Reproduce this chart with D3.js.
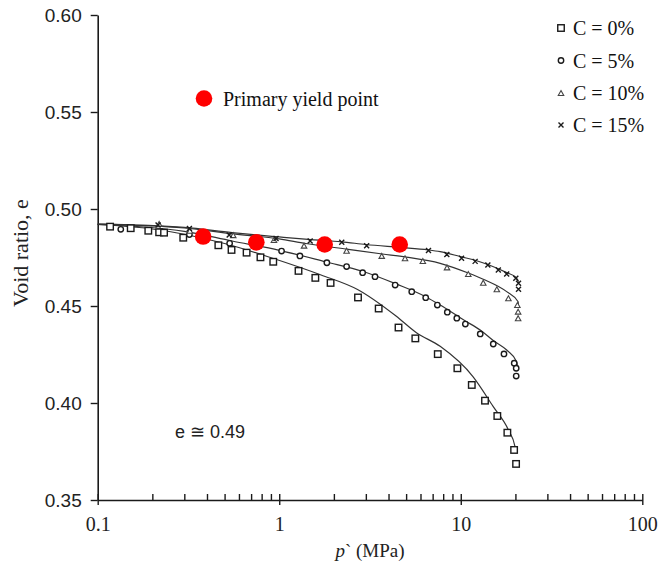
<!DOCTYPE html>
<html>
<head>
<meta charset="utf-8">
<script src="https://cdn.jsdelivr.net/npm/d3@7/dist/d3.min.js"></script>
<style>
  html, body { margin: 0; padding: 0; background: #fff; }
  svg { display: block; }
</style>
</head>
<body>
<svg id="chart" width="662" height="571"></svg>
<script>
// Measured void ratio e against mean effective stress p' (MPa), by cement content C
const c0Points = [[0.117,0.4909],[0.152,0.4901],[0.190,0.4888],[0.218,0.4880],[0.232,0.4878],[0.296,0.4852],[0.462,0.4813],[0.546,0.4789],[0.661,0.4775],[0.788,0.4751],[0.927,0.4728],[1.277,0.4681],[1.581,0.4645],[1.918,0.4619],[2.716,0.4544],[3.53,0.4487],[4.54,0.4389],[5.62,0.4333],[7.47,0.4252],[9.58,0.4179],[11.5,0.4093],[13.6,0.4012],[15.9,0.3933],[18.06,0.3847],[19.67,0.3758],[20.17,0.3686]];
const c5Points = [[0.134,0.4895],[0.32,0.4868],[0.533,0.4823],[1.03,0.4783],[1.30,0.4758],[1.83,0.4723],[2.35,0.4703],[2.88,0.4672],[3.37,0.4651],[4.35,0.4608],[5.37,0.4574],[6.41,0.4543],[7.43,0.4505],[8.43,0.4468],[9.51,0.4437],[10.6,0.4407],[12.8,0.4356],[15.1,0.4304],[17.3,0.4253],[19.7,0.4205],[20.2,0.4179],[20.2,0.4139]];
const c10Points = [[0.218,0.4923],[0.322,0.4888],[0.558,0.4865],[0.935,0.4840],[1.37,0.4811],[2.35,0.4785],[3.67,0.4758],[4.93,0.4746],[6.18,0.4732],[8.4,0.4699],[11.0,0.4665],[13.3,0.4620],[15.8,0.4586],[18.3,0.4540],[20.5,0.4505],[20.7,0.4471],[20.7,0.4437]];
const c15Points = [[0.215,0.4917],[0.32,0.4900],[0.53,0.4866],[0.96,0.4848],[1.48,0.4835],[2.21,0.4828],[3.03,0.4811],[6.64,0.4786],[8.38,0.4765],[10.1,0.4746],[12.0,0.4730],[14.1,0.4711],[16.1,0.4686],[17.9,0.4665],[20.1,0.4643],[20.8,0.4617],[20.8,0.4586]];

// Model curves fitted to each series
const c0Curve = [[0.1,0.4920],[0.2,0.4897],[0.3,0.4870],[0.5,0.4822],[0.93,0.4745],[1.7,0.4660],[2.7,0.4585],[4.4,0.4448],[5.7,0.4362],[7.7,0.4292],[11.7,0.4135],[15.1,0.3981],[18.3,0.3861],[19.9,0.3775],[20.2,0.3741]];
const c5Curve = [[0.1,0.4920],[0.3,0.4885],[0.55,0.4835],[1.0,0.4787],[1.8,0.4728],[2.9,0.4678],[4.4,0.4614],[6.4,0.4548],[7.7,0.4505],[10.5,0.4425],[12.8,0.4376],[15.1,0.4322],[17.9,0.4273],[20.3,0.4213],[20.5,0.4190]];
const c10Curve = [[0.1,0.4922],[0.3,0.4902],[0.55,0.4872],[1.0,0.4846],[1.4,0.4822],[2.4,0.4792],[3.7,0.4768],[5.0,0.4752],[7.7,0.4720],[11.0,0.4670],[13.3,0.4638],[17.9,0.4574],[20.7,0.4522],[20.8,0.4500]];
const c15Curve = [[0.1,0.4922],[0.3,0.4905],[0.55,0.4878],[1.0,0.4856],[1.5,0.4842],[2.2,0.4831],[3.0,0.4817],[4.6,0.4802],[6.6,0.4789],[7.7,0.4780],[10.1,0.4753],[12.0,0.4736],[14.1,0.4714],[17.9,0.4672],[20.1,0.4648],[20.8,0.4625]];

// Primary yield points (one per cement content)
const yieldPoints = [[0.381,0.4858],[0.748,0.4828],[1.78,0.4817],[4.61,0.4817]];

const legendLabels = ["C = 0%", "C = 5%", "C = 10%", "C = 15%"];
const yTicks = [0.35, 0.40, 0.45, 0.50, 0.55, 0.60];
const xMajorTicks = [0.1, 1, 10, 100];
const xTickLabels = ["0.1", "1", "10", "100"];

const svg = d3.select("#chart");
const x = d3.scaleLog().domain([0.1, 100]).range([97.7, 642.3]);
const y = d3.scaleLinear().domain([0.35, 0.60]).range([500, 15]);

const ink = "#1a1a1a";
const serif = "'Liberation Serif', 'Times New Roman', serif";
const sans = "'Liberation Sans', Arial, sans-serif";

// ---- y axis
const yAxis = svg.append("g")
  .attr("transform", `translate(${x.range()[0]},0)`)
  .call(d3.axisLeft(y).tickValues(yTicks).tickFormat(d3.format(".2f"))
    .tickSize(7).tickPadding(9).tickSizeOuter(0));
yAxis.select(".domain").attr("stroke", ink).attr("stroke-width", 1.6);
yAxis.selectAll(".tick line").attr("stroke", ink).attr("stroke-width", 1.4);
yAxis.selectAll(".tick text")
  .attr("fill", "#222").style("font-family", sans).style("font-size", "19px");

// ---- x axis: minor ticks point inward, major ticks cross the axis
const xMinor = [];
for (let dec = 0.1; dec < 100; dec *= 10) {
  for (let k = 2; k <= 9; k++) xMinor.push(+(dec * k).toPrecision(3));
}
const xAxisG = svg.append("g").attr("transform", `translate(0,${y.range()[0]})`);
xAxisG.call(d3.axisBottom(x).tickValues(xMinor).tickFormat("").tickSize(-6).tickSizeOuter(0));
xAxisG.selectAll(".tick line").attr("stroke", ink).attr("stroke-width", 1.4);
xAxisG.select(".domain").attr("stroke", ink).attr("stroke-width", 1.6);

const xMajorG = svg.append("g").attr("transform", `translate(0,${y.range()[0]})`);
xMajorG.call(d3.axisBottom(x).tickValues(xMajorTicks)
  .tickFormat((d, i) => xTickLabels[i]).tickSize(5).tickSizeOuter(0));
xMajorG.select(".domain").remove();
xMajorG.selectAll(".tick line").attr("y1", -6).attr("y2", 5)
  .attr("stroke", ink).attr("stroke-width", 1.4);
xMajorG.selectAll(".tick text")
  .attr("y", 31).attr("dy", null)
  .attr("fill", "#222").style("font-family", serif).style("font-size", "20px");

// ---- axis titles
const xTitle = svg.append("text")
  .attr("x", 370).attr("y", 557)
  .attr("text-anchor", "middle")
  .attr("fill", "#222")
  .style("font-family", serif).style("font-size", "19px");
xTitle.append("tspan").style("font-style", "italic").text("p");
xTitle.append("tspan").text("` (MPa)");

svg.append("text")
  .attr("transform", "translate(28,253) rotate(-90)")
  .attr("text-anchor", "middle")
  .attr("fill", "#222")
  .style("font-family", serif).style("font-size", "22px")
  .text("Void ratio, e");

// ---- fitted curves
const line = d3.line().x(d => x(d[0])).y(d => y(d[1])).curve(d3.curveMonotoneX);
const curves = [c0Curve, c5Curve, c10Curve, c15Curve];
svg.append("g").selectAll("path").data(curves).join("path")
  .attr("d", line)
  .attr("fill", "none")
  .attr("stroke", "#333")
  .attr("stroke-width", 1.2);

// ---- markers
function drawSquare(g, cx, cy, s) {
  g.append("rect").attr("x", cx - s / 2).attr("y", cy - s / 2).attr("width", s).attr("height", s)
    .attr("stroke", ink).attr("stroke-width", 1.4).attr("fill", "#fff");
}
function drawCircle(g, cx, cy, r) {
  g.append("circle").attr("cx", cx).attr("cy", cy).attr("r", r)
    .attr("stroke", ink).attr("stroke-width", 1.4).attr("fill", "#fff");
}
function drawTriangle(g, cx, cy, s) {
  const h = s * 0.9;
  g.append("path")
    .attr("d", `M${cx},${cy - h / 2}L${cx + s / 2},${cy + h / 2}L${cx - s / 2},${cy + h / 2}Z`)
    .attr("stroke", "#444").attr("stroke-width", 1.1).attr("fill", "#fff");
}
function drawCross(g, cx, cy, s) {
  const a = s / 2;
  g.append("path")
    .attr("d", `M${cx - a},${cy - a}L${cx + a},${cy + a}M${cx - a},${cy + a}L${cx + a},${cy - a}`)
    .attr("stroke", ink).attr("stroke-width", 1.4).attr("fill", "none");
}

const series = [
  { pts: c0Points, draw: (g, cx, cy) => drawSquare(g, cx, cy, 6.5) },
  { pts: c5Points, draw: (g, cx, cy) => drawCircle(g, cx, cy, 2.7) },
  { pts: c10Points, draw: (g, cx, cy) => drawTriangle(g, cx, cy, 5.5) },
  { pts: c15Points, draw: (g, cx, cy) => drawCross(g, cx, cy, 5) }
];
const markG = svg.append("g");
series.forEach(s => {
  const g = markG.append("g");
  s.pts.forEach(d => s.draw(g, x(d[0]), y(d[1])));
});

// ---- primary yield points
svg.append("g").selectAll("circle").data(yieldPoints).join("circle")
  .attr("cx", d => x(d[0])).attr("cy", d => y(d[1])).attr("r", 8.3)
  .attr("fill", "#ff0000");

// ---- annotations
svg.append("circle").attr("cx", 204).attr("cy", 98.5).attr("r", 8.3).attr("fill", "#ff0000");
svg.append("text")
  .attr("x", 223).attr("y", 106)
  .attr("fill", "#111")
  .style("font-family", serif).style("font-size", "20px")
  .text("Primary yield point");

svg.append("text")
  .attr("x", 175).attr("y", 438)
  .attr("fill", "#222")
  .style("font-family", sans).style("font-size", "18px")
  .text("e ≅ 0.49");

// ---- legend
const legend = svg.append("g");
const legendRowY = [28, 60.5, 93, 125];
series.forEach((s, i) => {
  const cy = legendRowY[i];
  s.draw(legend, 561, cy);
  legend.append("text")
    .attr("x", 573).attr("y", cy + 7)
    .attr("fill", "#111")
    .style("font-family", serif).style("font-size", "20px")
    .text(legendLabels[i]);
});
</script>
</body>
</html>
